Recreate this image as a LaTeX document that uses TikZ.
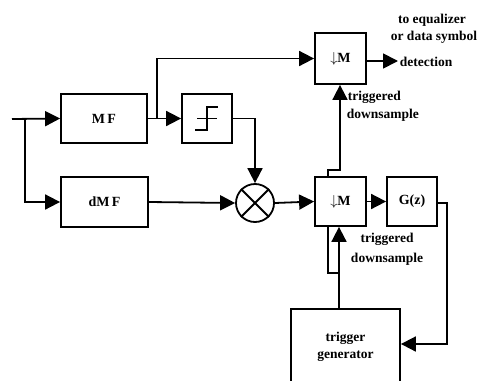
\documentclass[tikz,border=0pt]{standalone}
\usepackage{fontspec}
\setmainfont{Liberation Serif}
\usetikzlibrary{arrows.meta}
\begin{document}
\begin{tikzpicture}[x=1pt,y=-1pt,line width=1.8pt,
  blk/.style={draw,rectangle,inner sep=0pt,font=\fontsize{14}{16}\selectfont\bfseries},
  lbl/.style={inner sep=0pt,font=\fontsize{13.5}{15}\selectfont\bfseries},
  arr/.style={-{Triangle[length=15pt,width=15pt]}}]
\useasboundingbox (0,0) rectangle (481,380);
% blocks
\node[blk,minimum width=86pt,minimum height=49pt] (mf) at (104,118.5) {M\,F};
\node[blk,minimum width=87pt,minimum height=50pt] (dmf) at (104.5,202) {dM\,F};
\node[blk,minimum width=50pt,minimum height=49pt] (sgn) at (207,118.5) {};
\node[blk,minimum width=51pt,minimum height=51pt] (dstop) at (340.5,58.5) {$\downarrow$M};
\node[blk,minimum width=51pt,minimum height=49pt] (dsbot) at (340.5,201.5) {$\downarrow$M};
\node[blk,minimum width=50pt,minimum height=49pt] (g) at (412,201.5) {G(z)};
\node[draw,circle,minimum size=38pt,inner sep=0pt] (mul) at (255,203) {};
\draw (mul.45) -- (mul.225) (mul.135) -- (mul.315);
\node[blk,minimum width=109pt,minimum height=76pt] (trig) at (345.5,347) {};
\node[lbl,align=center] (trigtxt) at (345.5,347) {trigger\\[2pt]generator};
% sign symbol
\draw[line width=1.4pt] (195,130) -- (207,130) -- (207,107) -- (218,107);
\draw[line width=1.4pt] (197,118.5) -- (217,118.5);
% input
\coordinate (in) at (12,119);
\coordinate (br) at (25,119);
\draw[arr] (in) -- (mf.west);
\draw[arr] (br) |- (dmf.west);
% MF outputs
\coordinate (mfb) at (157,118.5);
\draw[arr] (mf.east) -- (sgn.west);
\draw[arr] (mfb) |- (dstop.west);
% sign to multiplier
\draw[arr] (sgn.east) -| (mul.north);
\draw[arr] (dmf.east) -- (mul.west);
\draw[arr] (mul.east) -- (dsbot.west);
\draw[arr] (dsbot.east) -- (g.west);
% output
\coordinate (out) at (398,61);
\draw[arr] (dstop.east |- out) -- (out);
\node[lbl] (t1) at (432,20) {to equalizer};
\node[lbl] (t2) at (434,37) {or data symbol};
\node[lbl,anchor=west] (t3) at (399,62) {detection};
% G to trigger generator
\coordinate (gr) at (447,203);
\draw[arr] (g.east |- gr) -- (gr) |- (trig.east |- 0,344);
% trigger generator to downsamplers
\coordinate (j1) at (339,273);
\coordinate (j2) at (328,273);
\draw[arr] (trig.north -| j1) -- (dsbot.south -| j1);
\draw (j1) -- (j2) -- (dsbot.south -| j2);
\coordinate (k1) at (328,170);
\coordinate (k2) at (340,170);
\draw[arr] (dsbot.north -| k1) -- (k1) -- (k2) -- (dstop.south -| k2);
% labels
\node[lbl,anchor=west] (tr1) at (347,97) {triggered};
\node[lbl,anchor=west] (dn1) at (346,115) {downsample};
\node[lbl] (tr2) at (387,239) {triggered};
\node[lbl] (dn2) at (387,259) {downsample};
\end{tikzpicture}
\end{document}
